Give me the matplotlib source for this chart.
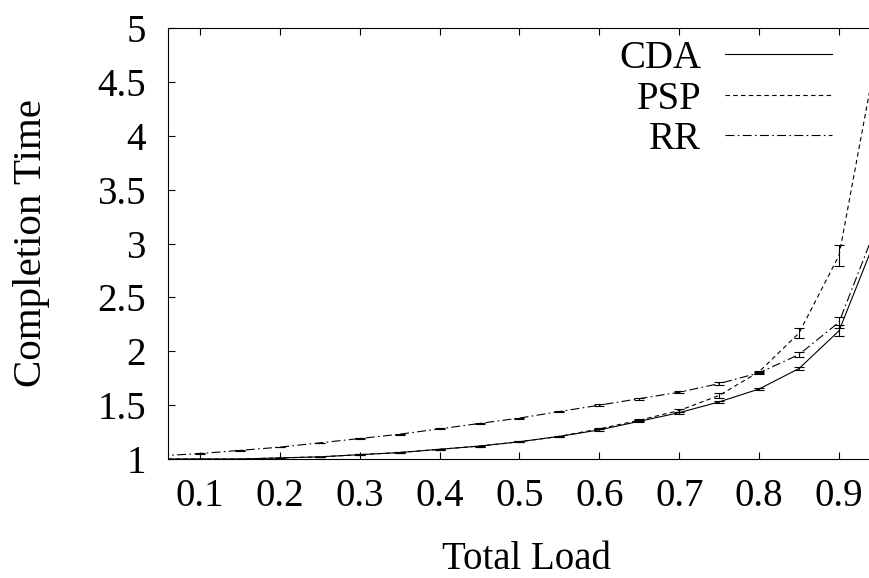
import matplotlib
matplotlib.use("Agg")
import matplotlib.pyplot as plt
from matplotlib.lines import Line2D

# load points
load = [0.05, 0.10, 0.15, 0.20, 0.25, 0.30, 0.35, 0.40, 0.45, 0.50,
        0.55, 0.60, 0.65, 0.70, 0.75, 0.80, 0.85, 0.90, 0.95]

# mean completion time per scheme
cda = [1.00, 1.00, 1.00, 1.01, 1.02, 1.04, 1.06, 1.09, 1.12, 1.16,
       1.21, 1.27, 1.35, 1.43, 1.53, 1.65, 1.84, 2.19, 3.12]
psp = [1.00, 1.00, 1.00, 1.01, 1.02, 1.04, 1.06, 1.09, 1.12, 1.16,
       1.21, 1.28, 1.36, 1.45, 1.59, 1.81, 2.17, 2.89, 4.88]
rr = [1.03, 1.05, 1.08, 1.11, 1.15, 1.19, 1.23, 1.28, 1.33, 1.38,
      1.44, 1.50, 1.56, 1.62, 1.70, 1.80, 1.97, 2.27, 3.22]

# error bar half widths
cda_err = [0.003, 0.003, 0.003, 0.003, 0.003, 0.004, 0.004, 0.005, 0.005, 0.005,
           0.006, 0.006, 0.008, 0.01, 0.01, 0.01, 0.015, 0.05, 0.1]
psp_err = [0.003, 0.003, 0.003, 0.003, 0.003, 0.004, 0.004, 0.005, 0.005, 0.005,
           0.006, 0.006, 0.01, 0.01, 0.02, 0.01, 0.05, 0.1, 0.2]
rr_err = [0.003, 0.003, 0.003, 0.003, 0.003, 0.004, 0.004, 0.005, 0.005, 0.005,
          0.006, 0.006, 0.008, 0.01, 0.015, 0.01, 0.02, 0.05, 0.1]

labels = ["CDA", "PSP", "RR"]
xticks = [0.1, 0.2, 0.3, 0.4, 0.5, 0.6, 0.7, 0.8, 0.9]
yticks = [1, 1.5, 2, 2.5, 3, 3.5, 4, 4.5, 5]

plt.rcParams['font.family'] = ['Liberation Serif', 'DejaVu Serif']
fs = 28

fig = plt.figure(figsize=(8.69, 5.78), dpi=100)
ax = fig.add_axes([168 / 869, 119 / 578, 701 / 869, 431 / 578])

styles = ['-', (0, (4, 3)), (0, (8, 3, 1.5, 3))]
series = [(cda, cda_err), (psp, psp_err), (rr, rr_err)]
for (vals, errs), ls in zip(series, styles):
    ax.errorbar(load, vals, yerr=errs, color='black', linestyle=ls, lw=0.8,
                elinewidth=0.8, capsize=3.5, capthick=0.8)

ax.set_xlim(0.06, 0.9375)
ax.set_ylim(1, 5)
ax.set_xticks(xticks)
ax.set_xticklabels([f"{t:g}" for t in xticks])
ax.set_yticks(yticks)
ax.set_yticklabels([f"{t:g}" for t in yticks])
ax.tick_params(direction='in', top=True, right=False, length=5, width=0.8,
               labelsize=fs)
ax.tick_params(axis='x', pad=14)
ax.tick_params(axis='y', pad=16)
ax.spines['right'].set_visible(False)
for s in ['left', 'top', 'bottom']:
    ax.spines[s].set_linewidth(0.8)

ax.set_xlabel("Total Load", fontsize=fs, va='center')
ax.xaxis.set_label_coords(0.511, -0.233)
ax.set_ylabel("Completion Time", fontsize=29.5, va='center')
ax.yaxis.set_label_coords(-0.195, 0.5)

handles = [Line2D([], [], color='black', lw=0.8, linestyle=ls) for ls in styles]
ax.legend(handles, labels, loc='upper right', bbox_to_anchor=(0.947, 0.972),
          frameon=False, markerfirst=False, fontsize=fs, handlelength=2.76,
          handletextpad=0.6, labelspacing=0.09, borderaxespad=0, borderpad=0)

fig.savefig("out.png", dpi=100)
